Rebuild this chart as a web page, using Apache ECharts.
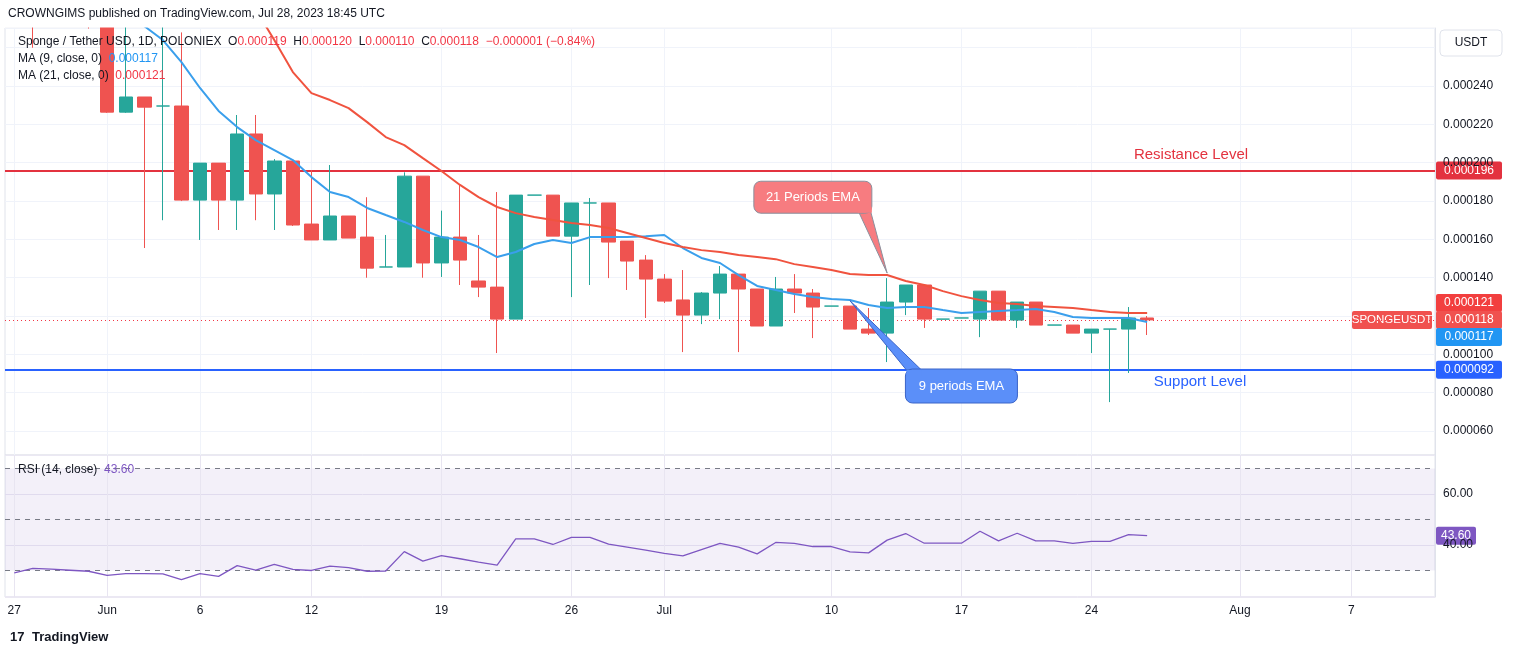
<!DOCTYPE html>
<html><head><meta charset="utf-8">
<script src="https://cdn.jsdelivr.net/npm/echarts@6/dist/echarts.min.js"></script>
<style>html,body{margin:0;padding:0;background:#fff}#c{width:1515px;height:655px}</style>
</head><body><div id="c"></div>
<script>
// values in millionths of USDT (1 = 0.000001)
const startDate = [2023, 4, 27]; // May 27, 2023
const dayCount = 77;
const tickDays = ['May 27','Jun 1','Jun 6','Jun 12','Jun 19','Jun 26','Jul 1','Jul 10','Jul 17','Jul 24','Aug 1','Aug 7'];
const tickText = {'May 27':'27','Jun 1':'Jun','Jun 6':'6','Jun 12':'12','Jun 19':'19','Jun 26':'26','Jul 1':'Jul','Jul 10':'10','Jul 17':'17','Jul 24':'24','Aug 1':'Aug','Aug 7':'7'};
// [open, close, low, high]
const candles = [
[300,310,290,320],[310,300,260,315],[300,320,290,330],[320,300,290,325],[300,280,270,305],
[275,226.4,226,282],[226.4,234.3,226,271],[234.3,229.0,155.5,234.3],[229.6,229.6,170,272],[229.6,180.5,180,268],
[180.5,199.8,159.7,199.8],[199.8,180.5,164.9,199.8],[180.5,215,164.9,224.9],[215,183.7,170,224.9],[183.7,200.9,164.9,201.9],
[200.9,167.5,167,200.9],[168,159.7,159.7,196.2],[159.7,172.2,159.7,198.8],[172.2,160.7,160.7,172.2],[161.2,145,140,182],
[145.6,145.6,145.6,162.3],[145.6,193,145.6,195],[193,147.7,140,193],[147.7,161.2,140.4,175],[161.2,149.2,136.2,188.4],
[138.3,135.1,129.9,162.3],[135.1,118.4,100.7,184.7],[118.4,183.1,118.4,183.1],[183.1,183.1,183.1,183.1],[183.1,161.7,161.7,183.1],
[161.7,179.0,129.9,179.0],[179.0,179.0,136.2,181.6],[179.0,158.6,139.8,179.0],[159.1,148.7,133.6,159.1],[149.2,139.3,119.0,151.8],
[139.3,127.8,126.8,141.9],[128.4,120.5,101.2,144.0],[120.5,132.0,115.8,132.5],[132.0,141.9,118.4,146.1],[141.9,134.1,101.2,141.9],
[134.1,114.8,114.8,134.1],[114.8,134.1,114.8,140.4],[134.1,132.0,121.6,141.9],[132.0,124.7,108.5,134.1],[125.2,125.2,125.2,125.2],
[125.2,113.2,113.2,125.2],[113.2,111.1,110.1,124.2],[111.1,127.3,96.0,139.8],[127.3,136.2,120.5,136.2],[136.2,118.4,113.8,136.2],
[118.4,118.4,118.4,118.4],[119,119,119,119],[118.4,133.0,109.0,133.0],[133.0,117.9,117.9,133.0],[117.9,127.3,113.8,127.3],
[127.3,115.3,115.3,127.3],[115.3,115.3,115.3,115.3],[115.3,111.1,111.1,115.3],[111.1,113.2,100.7,113.2],[113.2,113.2,75.1,113.2],
[113.2,119.0,90.3,124.7],[119.0,118.0,110.1,120]
];
const ma9 = ['-','-','-','-','-','-',278,271.3,264,252.5,239,227,218.6,211.8,206.6,201.4,192.5,184.7,182.1,176.4,172.7,169.1,164.9,161.2,159.7,156.0,150.8,153.4,157.6,159.7,158.1,161.2,161.2,161.2,161.7,162.3,155.5,150.3,147.7,141.4,135.7,133.6,131.5,129.9,128.9,128.4,125.8,124.2,124.7,124.7,123.1,121.6,122.1,122.6,123.1,123.7,122.1,119.5,119.0,119.0,119.0,116.9];
const ma21 = ['-','-','-','-','-','-','-','-','-','-','-','-','-',280,264,247.3,236.3,232.7,228.5,221.2,213.4,209.2,202.4,195.7,188.4,182.1,176.9,173.7,171.7,170.1,168.5,167.5,165.9,163.3,160.7,158.1,156.0,154.4,153.4,151.8,150.8,149.7,147.1,145.6,144.0,141.9,141.4,141.4,138.3,136.2,133.0,130.4,128.4,126.8,126.3,125.2,124.7,124.2,123.1,122.1,121.6,121.6];
const rsi = [29.1,30.8,30.5,30.1,29.7,28.1,28.8,28.8,28.7,26.4,28.8,27.7,31.9,30.1,32.4,30.4,30.0,31.7,31.1,29.7,29.8,37.4,33.7,35.8,34.6,33.3,32.1,42.4,42.4,40.2,43.0,43.0,40.3,39.2,38.0,36.7,35.7,38.2,40.6,39.2,36.5,41.0,40.6,39.4,39.4,37.3,36.9,41.9,44.5,40.7,40.7,40.7,45.4,41.6,44.6,41.6,41.6,40.6,41.4,41.4,44.1,43.7];
const resistance = 196, support = 92, lastPrice = 118, lastMa9 = 117, lastMa21 = 121, lastRsi = 43.60;

const mon = ['Jan','Feb','Mar','Apr','May','Jun','Jul','Aug','Sep','Oct','Nov','Dec'];
const dates = [];
for (let i = 0; i < dayCount; i++) { const d = new Date(Date.UTC(startDate[0], startDate[1], startDate[2] + i)); dates.push(mon[d.getUTCMonth()] + ' ' + d.getUTCDate()); }
const fmt = v => (v / 1e6).toFixed(6);
const FONT = 'Liberation Sans';
const vLines = tickDays.map(t => ({xAxis: t}));
const vLineCfg = c => ({silent:true, z:0, zlevel:0, symbol:['none','none'], label:{show:false}, lineStyle:{color:c, type:'solid', width:1}, data:vLines});
const dashed = {color:'#787b86', type:[5,5], width:1};

const chart = echarts.init(document.getElementById('c'));
chart.setOption({
  animation:false,
  textStyle:{fontFamily:FONT},
  grid:[
    {left:5, right:80, top:28, height:427, show:true, borderColor:'#e0e3eb', borderWidth:1},
    {left:5, right:80, top:455, height:142, show:true, borderColor:'#e0e3eb', borderWidth:1}
  ],
  xAxis:[
    {type:'category', data:dates, gridIndex:0, boundaryGap:true, axisLine:{show:false}, axisTick:{show:false}, axisLabel:{show:false}, splitLine:{show:false}},
    {type:'category', data:dates, gridIndex:1, boundaryGap:true, axisLine:{show:false}, axisTick:{show:false}, splitLine:{show:false},
     axisLabel:{interval:(i,v)=>tickDays.includes(v), formatter:v=>tickText[v]||'', color:'#131722', fontSize:12, margin:8}}
  ],
  yAxis:[
    {type:'value', gridIndex:0, position:'right', min:47.5, max:270.3, splitNumber:11,
     axisLine:{show:true, lineStyle:{color:'#e0e3eb'}}, axisTick:{show:false},
     axisLabel:{showMinLabel:false, showMaxLabel:false, formatter:v=>(v>250||v==120)?'':fmt(v), color:'#131722', fontSize:12, margin:8},
     splitLine:{lineStyle:{color:'#f0f3fa'}}},
    {type:'value', gridIndex:1, position:'right', min:19.6, max:75.3, splitNumber:3,
     axisLine:{show:true, lineStyle:{color:'#e0e3eb'}}, axisTick:{show:false},
     axisLabel:{showMinLabel:false, showMaxLabel:false, formatter:v=>(v==40||v==60)?v.toFixed(2):'', color:'#131722', fontSize:12, margin:8},
     splitLine:{lineStyle:{color:'#ebe8f3'}}}
  ],
  series:[
    {type:'line', xAxisIndex:0, yAxisIndex:0, data:[], z:0, markLine:vLineCfg('#f0f3fa')},
    {type:'line', xAxisIndex:1, yAxisIndex:1, data:[], z:0, markLine:vLineCfg('#e8e5f1'),
     markArea:{silent:true, z:0, itemStyle:{color:'rgba(126,87,194,0.09)'}, data:[[{yAxis:30},{yAxis:70}]]}},
    {type:'candlestick', xAxisIndex:0, yAxisIndex:0, data:candles, barWidth:'75%', clip:true, z:10,
     itemStyle:{color:'#26a69a', color0:'#ef5350', borderColor:'#26a69a', borderColor0:'#ef5350'},
     markLine:{silent:true, symbol:['none','none'], label:{show:false},
       data:[
         {yAxis:resistance, lineStyle:{color:'#e3323f', width:2, type:'solid'}},
         {yAxis:support, lineStyle:{color:'#2962ff', width:2, type:'solid'}},
         {yAxis:lastPrice, lineStyle:{color:'#f23645', width:1, type:[1,3]}}
       ]}},
    {type:'line', xAxisIndex:0, yAxisIndex:0, data:ma9, symbol:'none', lineStyle:{color:'#3a9fec', width:2}, z:11},
    {type:'line', xAxisIndex:0, yAxisIndex:0, data:ma21, symbol:'none', lineStyle:{color:'#f0533f', width:2}, z:11},
    {type:'line', xAxisIndex:1, yAxisIndex:1, data:rsi, symbol:'none', lineStyle:{color:'#7e57c2', width:1.3}, z:11,
     markLine:{silent:true, symbol:['none','none'], label:{show:false}, lineStyle:dashed,
       data:[{yAxis:70},{yAxis:50},{yAxis:30}]}}
  ]
});

function px(cat, val, gi){ return chart.convertToPixel({xAxisIndex:gi, yAxisIndex:gi}, [cat, val]); }
const axisX = 1435;
function badge(y, text, bg, x, w, fs){
  const bx = x||axisX+1, bw = w||text.length*7+10;
  return {type:'group', z:50, children:[
    {type:'rect', shape:{x:bx, y:y-9, width:bw, height:18, r:2}, style:{fill:bg}},
    {type:'text', style:{x:bx+bw/2, y:y, text:text, fill:'#fff', font:(fs||12)+'px '+FONT, align:'center', verticalAlign:'middle'}}
  ]};
}
const yRes = px(dates[0], resistance, 0)[1], ySup = px(dates[0], support, 0)[1], yLast = px(dates[0], lastPrice, 0)[1];
const yRsi = px(dates[0], lastRsi, 1)[1];
const c21 = px('Jul 9', 182, 0), t21 = px('Jul 13', 142.4, 0);
const c9 = px('Jul 17', 83.5, 0), t9 = px('Jul 11', 128, 0);
const g = [];
g.push({type:'rect', z:45, shape:{x:0, y:0, width:1435, height:27.5}, style:{fill:'#fff'}});
g.push(badge(yRes, fmt(resistance), '#e3323f'));
g.push(badge(yLast-17, fmt(lastMa21), '#f23f3f'));
g.push(badge(yLast, fmt(lastPrice), '#f0514f'));
g.push(badge(yLast+17, fmt(lastMa9), '#2196f3'));
g.push(badge(ySup, fmt(support), '#2962ff'));
g.push(badge(yRsi, lastRsi.toFixed(2), '#7e57c2', null, 40));
g.push(badge(yLast, 'SPONGEUSDT', '#f0514f', axisX-83, 80, 11.5));
g.push({type:'text', z:50, style:{x:1191, y:yRes-16, text:'Resistance Level', fill:'#e3323f', font:'15px '+FONT, align:'center', verticalAlign:'middle'}});
g.push({type:'text', z:50, style:{x:1200, y:ySup+12, text:'Support Level', fill:'#2962ff', font:'15px '+FONT, align:'center', verticalAlign:'middle'}});
g.push({type:'polygon', z:40, shape:{points:[[c21[0]+46,c21[1]+15],[c21[0]+58,c21[1]+15],[t21[0],t21[1]]]}, style:{fill:'#f77c80', stroke:'#8a8f9c', lineWidth:1}});
g.push({type:'rect', z:41, shape:{x:c21[0]-59, y:c21[1]-16, width:118, height:32, r:7}, style:{fill:'#f77c80', stroke:'#8a8f9c', lineWidth:1}});
g.push({type:'rect', z:42, shape:{x:c21[0]+45, y:c21[1]+10, width:14, height:5.5}, style:{fill:'#f77c80'}});
g.push({type:'text', z:43, style:{x:c21[0], y:c21[1], text:'21 Periods EMA', fill:'#fff', font:'13px '+FONT, align:'center', verticalAlign:'middle'}});
g.push({type:'polygon', z:40, shape:{points:[[c9[0]-55,c9[1]-16],[c9[0]-40,c9[1]-16],[t9[0],t9[1]]]}, style:{fill:'#5b8ff9', stroke:'#3a64c8', lineWidth:1}});
g.push({type:'rect', z:41, shape:{x:c9[0]-56, y:c9[1]-17, width:112, height:34, r:7}, style:{fill:'#5b8ff9', stroke:'#3a64c8', lineWidth:1}});
g.push({type:'rect', z:42, shape:{x:c9[0]-55, y:c9[1]-16, width:15, height:6}, style:{fill:'#5b8ff9'}});
g.push({type:'text', z:43, style:{x:c9[0], y:c9[1], text:'9 periods EMA', fill:'#fff', font:'13px '+FONT, align:'center', verticalAlign:'middle'}});
g.push({type:'text', z:50, style:{x:8, y:14, text:'CROWNGIMS published on TradingView.com, Jul 28, 2023 18:45 UTC', fill:'#131722', font:'12px '+FONT, verticalAlign:'middle'}});
g.push({type:'text', z:50, style:{x:18, y:42, verticalAlign:'middle', text:'{k|Sponge / Tether USD, 1D, POLONIEX  O}{r|0.000119}{k|  H}{r|0.000120}{k|  L}{r|0.000110}{k|  C}{r|0.000118}{r|  −0.000001 (−0.84%)}',
  rich:{k:{fill:'#131722', font:'12px '+FONT}, r:{fill:'#f23645', font:'12px '+FONT}}}});
g.push({type:'text', z:50, style:{x:18, y:59, verticalAlign:'middle', text:'{k|MA (9, close, 0)  }{b|0.000117}', rich:{k:{fill:'#131722', font:'12px '+FONT}, b:{fill:'#2196f3', font:'12px '+FONT}}}});
g.push({type:'text', z:50, style:{x:18, y:76, verticalAlign:'middle', text:'{k|MA (21, close, 0)  }{r|0.000121}', rich:{k:{fill:'#131722', font:'12px '+FONT}, r:{fill:'#f23645', font:'12px '+FONT}}}});
g.push({type:'text', z:50, style:{x:18, y:470, verticalAlign:'middle', text:'{k|RSI (14, close)  }{p|43.60}', rich:{k:{fill:'#131722', font:'12px '+FONT}, p:{fill:'#7e57c2', font:'12px '+FONT}}}});
g.push({type:'rect', z:50, shape:{x:1440, y:30, width:62, height:26, r:4}, style:{fill:'#fff', stroke:'#e0e3eb'}});
g.push({type:'text', z:51, style:{x:1471, y:43, text:'USDT', fill:'#131722', font:'12px '+FONT, align:'center', verticalAlign:'middle'}});
g.push({type:'text', z:50, style:{x:10, y:637, text:'17', fill:'#131722', font:'bold 13px '+FONT, verticalAlign:'middle'}});
g.push({type:'text', z:50, style:{x:32, y:637, text:'TradingView', fill:'#131722', font:'bold 13px '+FONT, verticalAlign:'middle'}});
chart.setOption({graphic:g});
</script></body></html>
